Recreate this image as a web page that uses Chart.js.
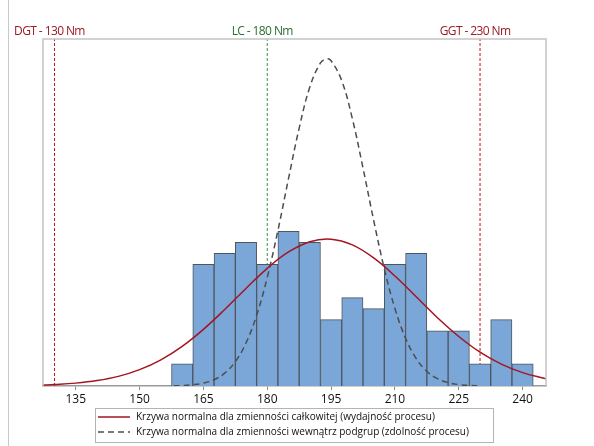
<!DOCTYPE html>
<html>
<head>
<meta charset="utf-8">
<script src="https://cdn.jsdelivr.net/npm/chart.js@4.4.1/dist/chart.umd.min.js"></script>
<style>
  html, body { margin: 0; padding: 0; background: #fff; }
  #wrap { width: 594px; height: 446px; position: relative; }
</style>
</head>
<body>
<div id="wrap"><canvas id="chart" width="594" height="446"></canvas></div>
<script>
// Histogram bins (Nm) and counts
const binCenters = [160, 165, 170, 175, 180, 185, 190, 195, 200, 205, 210, 215, 220, 225, 230, 235, 240];
const binCounts  = [2, 11, 12, 13, 11, 14, 13, 6, 8, 7, 11, 12, 5, 5, 2, 6, 2];

// Normal curve - overall variation
const overallX = [127, 130, 135, 140, 145, 150, 155, 160, 165, 170, 175, 180, 185, 190, 195, 200, 205, 210, 215, 220, 225, 230, 235, 240, 245, 246];
const overallY = [0.08, 0.13, 0.26, 0.49, 0.87, 1.48, 2.37, 3.59, 5.13, 6.92, 8.83, 10.65, 12.13, 13.06, 13.29, 12.77, 11.59, 9.95, 8.07, 6.18, 4.48, 3.06, 1.98, 1.21, 0.70, 0.62];

// Normal curve - within subgroups
const withinX = [158, 160, 162.5, 165, 167.5, 170, 172.5, 175, 177.5, 180, 182.5, 185, 187.5, 190, 192.5, 194, 195, 197.5, 200, 202.5, 205, 207.5, 210, 212.5, 215, 217.5, 220, 222.5, 225, 227.5, 230];
const withinY = [0.02, 0.04, 0.11, 0.26, 0.57, 1.16, 2.20, 3.89, 6.40, 9.83, 14.07, 18.78, 23.34, 27.05, 29.23, 29.6, 29.43, 27.63, 24.18, 19.72, 15.00, 10.62, 7.01, 4.32, 2.48, 1.33, 0.66, 0.31, 0.13, 0.05, 0.02];

const xTicks = [135, 150, 165, 180, 195, 210, 225, 240];
const specLimits = [130, 180, 230];
const specLabels = ['DGT - 130 Nm', 'LC - 180 Nm', 'GGT - 230 Nm'];
const specColors = ['#9c1b22', '#2a6e30', '#9c1b22'];
const specLineColors = ['#c8101c', '#2e9a3c', '#c8101c'];
const legendLabels = [
    'Krzywa normalna dla zmienności całkowitej (wydajność procesu)',
    'Krzywa normalna dla zmienności wewnątrz podgrup (zdolność procesu)'
];

const xMin = 127.3, xMax = 245.5, yMax = 31.4;

function toPoints(xs, ys) {
    return xs.map((x, i) => ({ x: x, y: ys[i] }));
}

const datasets = [{
    type: 'line',
    label: legendLabels[0],
    data: toPoints(overallX, overallY),
    borderColor: '#a3161f',
    borderWidth: 1.5,
    pointRadius: 0,
    tension: 0.4,
    order: 0
}, {
    type: 'line',
    label: legendLabels[1],
    data: toPoints(withinX, withinY),
    borderColor: '#4d4d4d',
    borderWidth: 1.5,
    borderDash: [6, 4],
    pointRadius: 0,
    tension: 0.4,
    order: 0
}, {
    type: 'bar',
    label: 'Histogram',
    data: toPoints(binCenters, binCounts),
    backgroundColor: 'rgb(122,166,216)',
    borderColor: '#4f555d',
    borderWidth: 1,
    barPercentage: 1,
    categoryPercentage: 1,
    order: 1
}];

// vertical spec lines, drawn under the bars
specLimits.forEach(function (v, i) {
    datasets.push({
        type: 'line',
        label: specLabels[i],
        data: [{ x: v, y: 0 }, { x: v, y: yMax }],
        borderColor: specLineColors[i],
        borderWidth: 1,
        borderDash: [3, 2],
        pointRadius: 0,
        order: 2
    });
});

const decorPlugin = {
    id: 'decor',
    afterDraw(chart) {
        const ctx = chart.ctx;
        const a = chart.chartArea;
        const xs = chart.scales.x;
        ctx.save();

        // outer left line
        ctx.strokeStyle = '#c8c8c8';
        ctx.lineWidth = 1;
        ctx.beginPath();
        ctx.moveTo(8.5, 0);
        ctx.lineTo(8.5, 446);
        ctx.stroke();

        // plot frame (top, left, right)
        ctx.strokeStyle = '#c4c4c4';
        ctx.lineWidth = 1.5;
        ctx.beginPath();
        ctx.moveTo(a.left, a.bottom);
        ctx.lineTo(a.left, a.top);
        ctx.lineTo(a.right, a.top);
        ctx.lineTo(a.right, a.bottom);
        ctx.stroke();

        // spec labels
        ctx.font = '12px "Open Sans"';
        ctx.letterSpacing = '-0.6px';
        ctx.textAlign = 'center';
        ctx.textBaseline = 'middle';
        specLimits.forEach(function (v, i) {
            ctx.fillStyle = specColors[i];
            ctx.fillText(specLabels[i], xs.getPixelForValue(v) - 5, 31.5);
        });
        ctx.letterSpacing = '0px';

        // legend box
        const bx = 95, by = 408, bw = 398, bh = 34;
        ctx.strokeStyle = '#b4b4b4';
        ctx.lineWidth = 1;
        ctx.strokeRect(bx + 0.5, by + 0.5, bw, bh);
        ctx.font = '10px "Open Sans"';
        ctx.textAlign = 'left';
        ctx.fillStyle = '#111';
        [0, 1].forEach(function (i) {
            const ds = chart.data.datasets[i];
            const y = by + 9 + i * 15;
            ctx.strokeStyle = ds.borderColor;
            ctx.lineWidth = 1.5;
            ctx.setLineDash(ds.borderDash || []);
            ctx.beginPath();
            ctx.moveTo(bx + 3, y);
            ctx.lineTo(bx + 35, y);
            ctx.stroke();
            ctx.setLineDash([]);
            ctx.fillText(ds.label, bx + 41, y);
        });
        ctx.restore();
    }
};

new Chart(document.getElementById('chart'), {
    type: 'bar',
    data: { datasets: datasets },
    options: {
        responsive: false,
        animation: false,
        layout: { padding: { left: 43, right: 48, top: 39, bottom: 0 } },
        plugins: {
            legend: { display: false },
            tooltip: { enabled: false }
        },
        scales: {
            x: {
                type: 'linear',
                min: xMin,
                max: xMax,
                offset: false,
                afterBuildTicks: function (s) {
                    s.ticks = xTicks.map(v => ({ value: v }));
                },
                afterFit: function (s) { s.height = 60; },
                grid: { display: true, drawOnChartArea: false, drawTicks: true, tickLength: 4, color: '#8a8a8a', offset: false },
                border: { display: true, color: '#9a9a9a', width: 1.5 },
                ticks: {
                    padding: 2,
                    color: '#111',
                    font: { family: 'Open Sans', size: 12 },
                    maxRotation: 0
                }
            },
            y: {
                display: false,
                min: 0,
                max: yMax
            }
        }
    },
    plugins: [decorPlugin]
});
</script>
</body>
</html>
